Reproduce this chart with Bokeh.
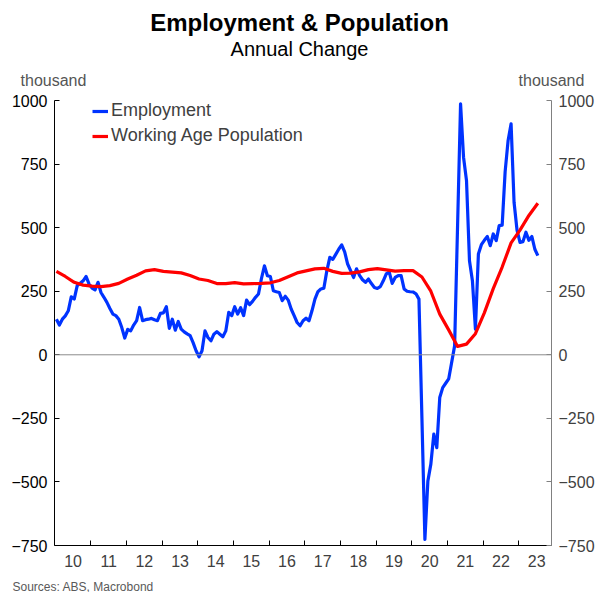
from bokeh.plotting import figure
from bokeh.layouts import column
from bokeh.models import (Range1d, LinearAxis, FixedTicker, Legend, LegendItem,
                          Span, ColumnDataSource)
from bokeh.core.properties import value
from bokeh.embed import file_html
from bokeh.resources import INLINE

# ---------------- data ----------------
START_YEAR = 2010  # month index 0 = Jan 2010
employment = [
    140, 117, 140, 153, 173, 228, 219, 272, 281, 291, 308, 278,
    262, 255, 285, 245, 226, 206, 182, 160, 154, 140, 107, 66,
    100, 94, 117, 134, 186, 134, 138, 140, 143, 138, 134, 163,
    165, 189, 104, 140, 97, 131, 101, 90, 82, 75, 48, 16,
    -8, 16, 94, 68, 55, 81, 91, 81, 71, 94, 167, 154,
    189, 160, 185, 154, 215, 197, 210, 226, 239, 300, 350, 311,
    308, 252, 248, 245, 213, 230, 215, 180, 154, 127, 114, 134,
    144, 134, 173, 219, 248, 259, 262, 330, 383, 375, 395, 415,
    432, 405, 357, 331, 304, 338, 312, 295, 285, 298, 280, 265,
    261, 268, 291, 318, 325, 281, 304, 311, 311, 259, 250, 248,
    247, 240, 219, -250, -726, -496, -430, -312, -365, -168, -129, -112,
    -95, -30, 35, 510, 987, 777, 685, 370, 290, 101, 396, 433,
    450, 465, 429, 475, 449, 508, 510, 720, 843, 908, 600, 490,
    442, 445, 482, 450, 465, 415, 390,
]
emp_months = list(range(len(employment)))

pop_months = list(range(0, 163, 3))
population = [
    328, 308, 285, 274, 270, 268, 272, 281, 298, 313,
    330, 335, 328, 325, 322, 312, 298, 292, 280, 280,
    284, 279, 280, 281, 283, 292, 307, 322, 330, 338,
    340, 328, 320, 321, 326, 335, 339, 334, 329, 331,
    331, 306, 250, 160, 98, 33, 42, 83, 165, 260,
    345, 440, 490, 548, 596,
]

year_labels = ["10", "11", "12", "13", "14", "15", "16",
               "17", "18", "19", "20", "21", "22", "23"]
y_ticks = [-750, -500, -250, 0, 250, 500, 750, 1000]

TITLE = "Employment & Population"
SUBTITLE = "Annual Change"
UNIT = "thousand"
SOURCE = "Sources: ABS, Macrobond"

# ---------------- layout ----------------
PAGE_W = 598
HEAD_H = 88
FOOT_H = 17
MAIN_H = 592 - HEAD_H - FOOT_H
ML, MR, MT, MB = 54, 47, 12, 30
X0, X1 = -0.24, 167.0
Y0, Y1 = -750, 1000
PT_OFF = 0.4  # monthly points drawn slightly after month start
FONT = "Liberation Sans"


def text_fig(h, y_top):
    f = figure(width=PAGE_W, height=h, x_range=Range1d(0, PAGE_W),
               y_range=Range1d(y_top + h, y_top), output_backend="svg",
               toolbar_location=None, x_axis_type=None, y_axis_type=None,
               min_border=0, outline_line_color=None, frame_align=False)
    f.grid.visible = False
    return f


# header with title, subtitle and unit labels (page pixel coordinates)
head = text_fig(HEAD_H, 0)
head.text(x=[299], y=[22], text=[TITLE], text_font=value(FONT), text_font_size="24px",
          text_font_style="bold", text_color="#000000", text_align="center",
          text_baseline="middle")
head.text(x=[299], y=[48], text=[SUBTITLE], text_font=value(FONT), text_font_size="20px",
          text_color="#000000", text_align="center", text_baseline="middle")
head.text(x=[53, 551], y=[80, 80], text=[UNIT, UNIT], text_font=value(FONT),
          text_font_size="16px", text_color="#555555", text_align="center",
          text_baseline="middle")

# main chart
p = figure(width=PAGE_W, height=MAIN_H, x_range=Range1d(X0, X1), y_range=Range1d(Y0, Y1),
           output_backend="svg", toolbar_location=None,
           min_border_left=ML, min_border_right=MR, min_border_top=MT, min_border_bottom=MB,
           outline_line_color=None, background_fill_color="white",
           border_fill_color="white", frame_align=False)
p.grid.visible = False

p.add_layout(Span(location=0, dimension="width", line_color="#8c8c8c", line_width=1))

emp_src = ColumnDataSource(dict(x=[m + PT_OFF for m in emp_months], y=employment))
pop_src = ColumnDataSource(dict(x=[m + PT_OFF for m in pop_months], y=population))

r_emp = p.line("x", "y", source=emp_src, line_color="#0033ff", line_width=3.2,
               line_join="round")
r_pop = p.line("x", "y", source=pop_src, line_color="#ff0000", line_width=3.2,
               line_join="round")

ly = p.yaxis[0]
ly.ticker = FixedTicker(ticks=y_ticks)
ly.major_tick_in = 5
ly.major_tick_out = 0
ly.minor_tick_line_color = None
ly.axis_line_color = "#000000"
ly.major_tick_line_color = "#000000"
ly.major_label_text_font = FONT
ly.major_label_text_font_size = "16px"
ly.major_label_text_color = "#000000"
ly.major_label_standoff = 7

ry = LinearAxis(ticker=FixedTicker(ticks=y_ticks))
ry.major_tick_in = 5
ry.major_tick_out = 0
ry.minor_tick_line_color = None
ry.axis_line_color = "#808080"
ry.major_tick_line_color = "#808080"
ry.major_label_text_font = FONT
ry.major_label_text_font_size = "16px"
ry.major_label_text_color = "#404040"
ry.major_label_standoff = 7
p.add_layout(ry, "right")

bx = p.xaxis[0]
mid_ticks = [12 * i + 6 for i in range(len(year_labels))]
year_starts = [12 * i for i in range(1, len(year_labels))]
bx.ticker = FixedTicker(ticks=mid_ticks, minor_ticks=year_starts)
bx.major_label_overrides = {t: lab for t, lab in zip(mid_ticks, year_labels)}
bx.major_tick_in = 0
bx.major_tick_out = 0
bx.minor_tick_in = 5
bx.minor_tick_out = 0
bx.axis_line_color = "#000000"
bx.minor_tick_line_color = "#000000"
bx.major_label_text_font = FONT
bx.major_label_text_font_size = "16px"
bx.major_label_text_color = "#404040"
bx.major_label_standoff = 9

FH = MAIN_H - MT - MB
legend = Legend(items=[LegendItem(label="Employment", renderers=[r_emp]),
                       LegendItem(label="Working Age Population", renderers=[r_pop])],
                location=(38, FH - 46), orientation="vertical",
                glyph_width=16, glyph_height=20, label_height=20, spacing=4,
                padding=0, margin=0, label_standoff=3,
                border_line_color=None, background_fill_alpha=0,
                label_text_font=FONT, label_text_font_size="18px",
                label_text_color="#404040")
p.add_layout(legend)

# footer with source note
foot = text_fig(FOOT_H, 592 - FOOT_H)
foot.text(x=[12], y=[586], text=[SOURCE], text_font=value(FONT), text_font_size="12px",
          text_color="#595959", text_align="left", text_baseline="middle")

layout = column(head, p, foot, spacing=0)
open("out.html", "w").write(file_html(layout, INLINE))
